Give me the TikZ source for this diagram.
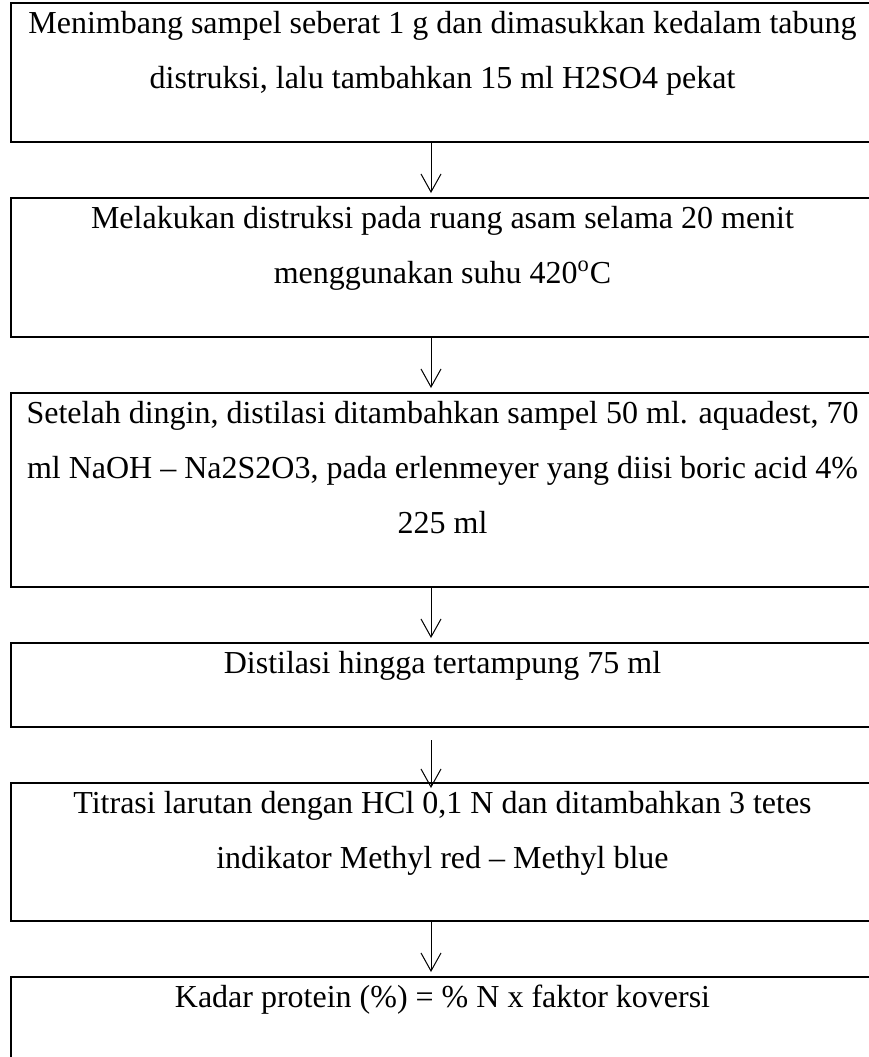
\documentclass[tikz,border=0pt]{standalone}
\usepackage{fontspec}
\setmainfont{Liberation Serif}
\usetikzlibrary{positioning,arrows.meta}

\tikzset{
  caja/.style={draw, line width=1pt, minimum width=431.5pt, inner sep=0pt, outer sep=0pt, anchor=north west},
  texto/.style={align=center, inner sep=0pt, font=\fontsize{16}{27.5}\selectfont},
  flecha/.style={-{Straight Barb[length=9pt,width=10pt]}, line width=0.5pt, shorten >=2.5pt}
}

\begin{document}
\begin{tikzpicture}[x=0.5pt,y=-0.5pt]
  % Lienzo
  \useasboundingbox (0,0) rectangle (869,1057);
  \clip (0,0) rectangle (869,1057);

  % Cajas
  \node[caja, minimum height=69.5pt] (b1) at (11,3) {};
  \node[caja, minimum height=69.5pt, below=28pt of b1] (b2) {};
  \node[caja, minimum height=97pt, below=28pt of b2] (b3) {};
  \node[caja, minimum height=42pt, below=28pt of b3] (b4) {};
  \node[caja, minimum height=69pt, below=28pt of b4] (b5) {};
  \node[caja, minimum height=42pt, below=28pt of b5] (b6) {};

  % Textos
  \node[texto, below=4pt of b1.north] (t1) {Menimbang sampel seberat 1 g dan dimasukkan kedalam tabung\\
    distruksi, lalu tambahkan 15 ml H2SO4 pekat};
  \node[texto, below=4pt of b2.north] (t2) {Melakukan distruksi pada ruang asam selama 20 menit\\
    menggunakan suhu 420\textsuperscript{o}C};
  \node[texto, below=4pt of b3.north] (t3) {Setelah dingin, distilasi ditambahkan sampel 50 ml. aquadest, 70\\
    ml NaOH -- Na2S2O3, pada erlenmeyer yang diisi boric acid 4\%\\
    225 ml};
  \node[texto, below=4pt of b4.north] (t4) {Distilasi hingga tertampung 75 ml};
  \node[texto, below=4pt of b5.north] (t5) {Titrasi larutan dengan HCl 0,1 N dan ditambahkan 3 tetes\\
    indikator Methyl red -- Methyl blue};
  \node[texto, below=4pt of b6.north] (t6) {Kadar protein (\%) = \% N x faktor koversi};

  % Flechas
  \coordinate (ax) at (431,0);
  \draw[flecha] (b1.south -| ax) -- (b2.north -| ax);
  \draw[flecha] (b2.south -| ax) -- (b3.north -| ax);
  \draw[flecha] (b3.south -| ax) -- (b4.north -| ax);
  \draw[flecha, shorten <=6.5pt, shorten >=-2.5pt] (b4.south -| ax) -- (b5.north -| ax);
  \draw[flecha] (b5.south -| ax) -- (b6.north -| ax);
\end{tikzpicture}
\end{document}
